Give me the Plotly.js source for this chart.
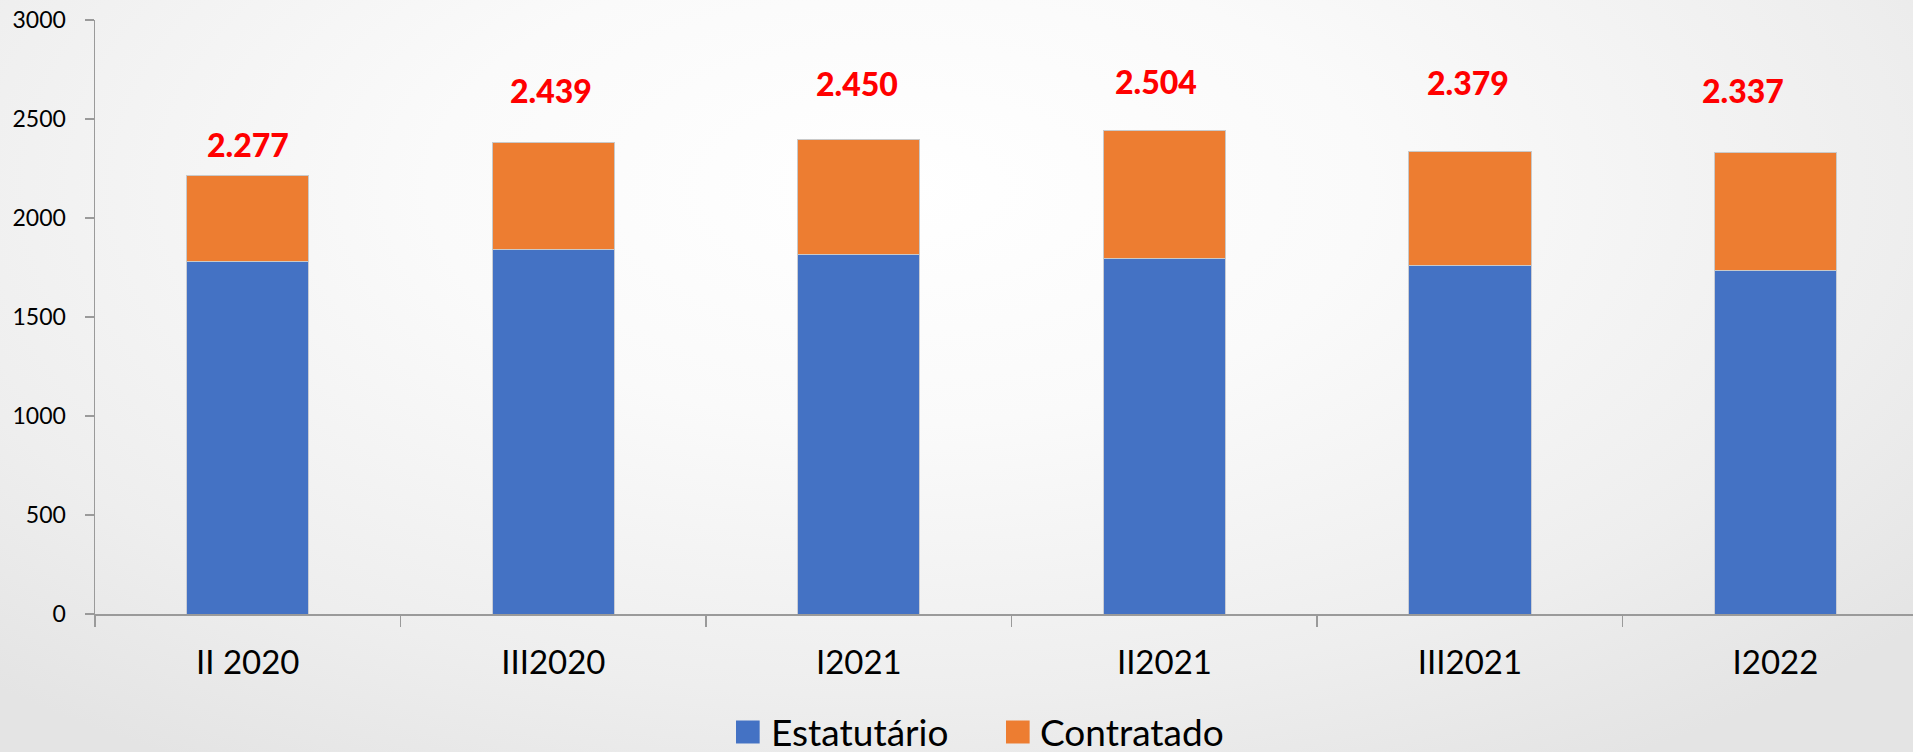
<!DOCTYPE html>
<html>
<head>
<meta charset="utf-8">
<script src="https://cdn.plot.ly/plotly-3.0.1.min.js"></script>
<style>
  html, body { margin:0; padding:0; width:1913px; height:752px; overflow:hidden; }
  body { background: radial-gradient(ellipse 70% 90% at 47% 25%, #ffffff 0%, #fafafa 35%, #eeeeee 75%, #e4e4e4 100%); }
  #chart { width:1913px; height:752px; }
</style>
</head>
<body>
<div id="chart"></div>
<script>
const categories = ['II 2020', 'III2020', 'I2021', 'II2021', 'III2021', 'I2022'];
const estatutario = [1779, 1843, 1817, 1795, 1758, 1734];
const contratado = [437, 539, 582, 649, 579, 598];
const totalLabels = ['2.277', '2.439', '2.450', '2.504', '2.379', '2.337'];
const seriesNames = ['Estatutário', 'Contratado'];
const seriesColors = ['#4472C4', '#ED7D31'];
const labelHeights = [2369, 2646, 2680, 2690, 2684, 2646];
const labelOffsets = [0, -2, -2, -8, -2, -33];

const FONT = 'Lato, "Open Sans", sans-serif';
const AXIS_GREY = '#9a9a9a';

const traces = [
  {
    type: 'bar', name: seriesNames[0], x: categories, y: estatutario,
    marker: { color: seriesColors[0], line: { color: '#c9ccd4', width: 1 } },
    width: 0.4, hoverinfo: 'x+y+name', showlegend: false
  },
  {
    type: 'bar', name: seriesNames[1], x: categories, y: contratado,
    marker: { color: seriesColors[1], line: { color: '#c9c9c9', width: 1 } },
    width: 0.4, hoverinfo: 'x+y+name', showlegend: false
  }
];

const annotations = categories.map((c, i) => ({
  x: c, y: labelHeights[i], xref: 'x', yref: 'y',
  text: totalLabels[i], showarrow: false, xshift: labelOffsets[i],
  xanchor: 'center', yanchor: 'middle',
  font: { family: FONT, size: 32, color: '#FF0000', weight: 900 }
}));

// legend drawn as paper-referenced swatches + text
const legendSwatchX = [0.3526, 0.5011];
const legendTextX = [0.3713, 0.5193];
const legendSwatchW = 0.0130;
const legendY0 = -0.218, legendY1 = -0.1793, legendTextY = -0.197;

const shapes = seriesNames.map((n, i) => ({
  type: 'rect', xref: 'paper', yref: 'paper',
  x0: legendSwatchX[i], x1: legendSwatchX[i] + legendSwatchW, y0: legendY0, y1: legendY1,
  fillcolor: seriesColors[i], line: { width: 0 }
}));
seriesNames.forEach((n, i) => annotations.push({
  xref: 'paper', yref: 'paper', x: legendTextX[i], y: legendTextY,
  xanchor: 'left', yanchor: 'middle', showarrow: false, text: n,
  height: 36, valign: 'middle', borderpad: 0,
  font: { family: FONT, size: 37, color: '#000000' }
}));

const layout = {
  width: 1913, height: 752,
  barmode: 'stack',
  paper_bgcolor: 'rgba(0,0,0,0)',
  plot_bgcolor: 'rgba(0,0,0,0)',
  margin: { l: 95, r: 0, t: 20, b: 138, autoexpand: false },
  font: { family: FONT, color: '#000000' },
  xaxis: {
    type: 'category', range: [-0.5, 5.45],
    showline: true, linecolor: AXIS_GREY, linewidth: 1.5,
    ticks: 'outside', tickson: 'boundaries', ticklen: 11, tickcolor: AXIS_GREY, tickwidth: 1.5,
    tickfont: { family: FONT, size: 33, color: '#000000' },
    ticklabelstandoff: 19,
    showgrid: false, zeroline: false, fixedrange: true, automargin: false
  },
  yaxis: {
    range: [0, 3000], dtick: 500, tick0: 0,
    showline: true, linecolor: AXIS_GREY, linewidth: 1.5,
    ticks: 'outside', ticklen: 9, tickcolor: AXIS_GREY, tickwidth: 1.5,
    tickfont: { family: FONT, size: 23, color: '#000000' },
    ticklabelstandoff: 14,
    showgrid: false, zeroline: false, fixedrange: true, automargin: false
  },
  showlegend: false,
  shapes: shapes,
  annotations: annotations
};

Plotly.newPlot('chart', traces, layout, { displayModeBar: false, staticPlot: true });
</script>
</body>
</html>
